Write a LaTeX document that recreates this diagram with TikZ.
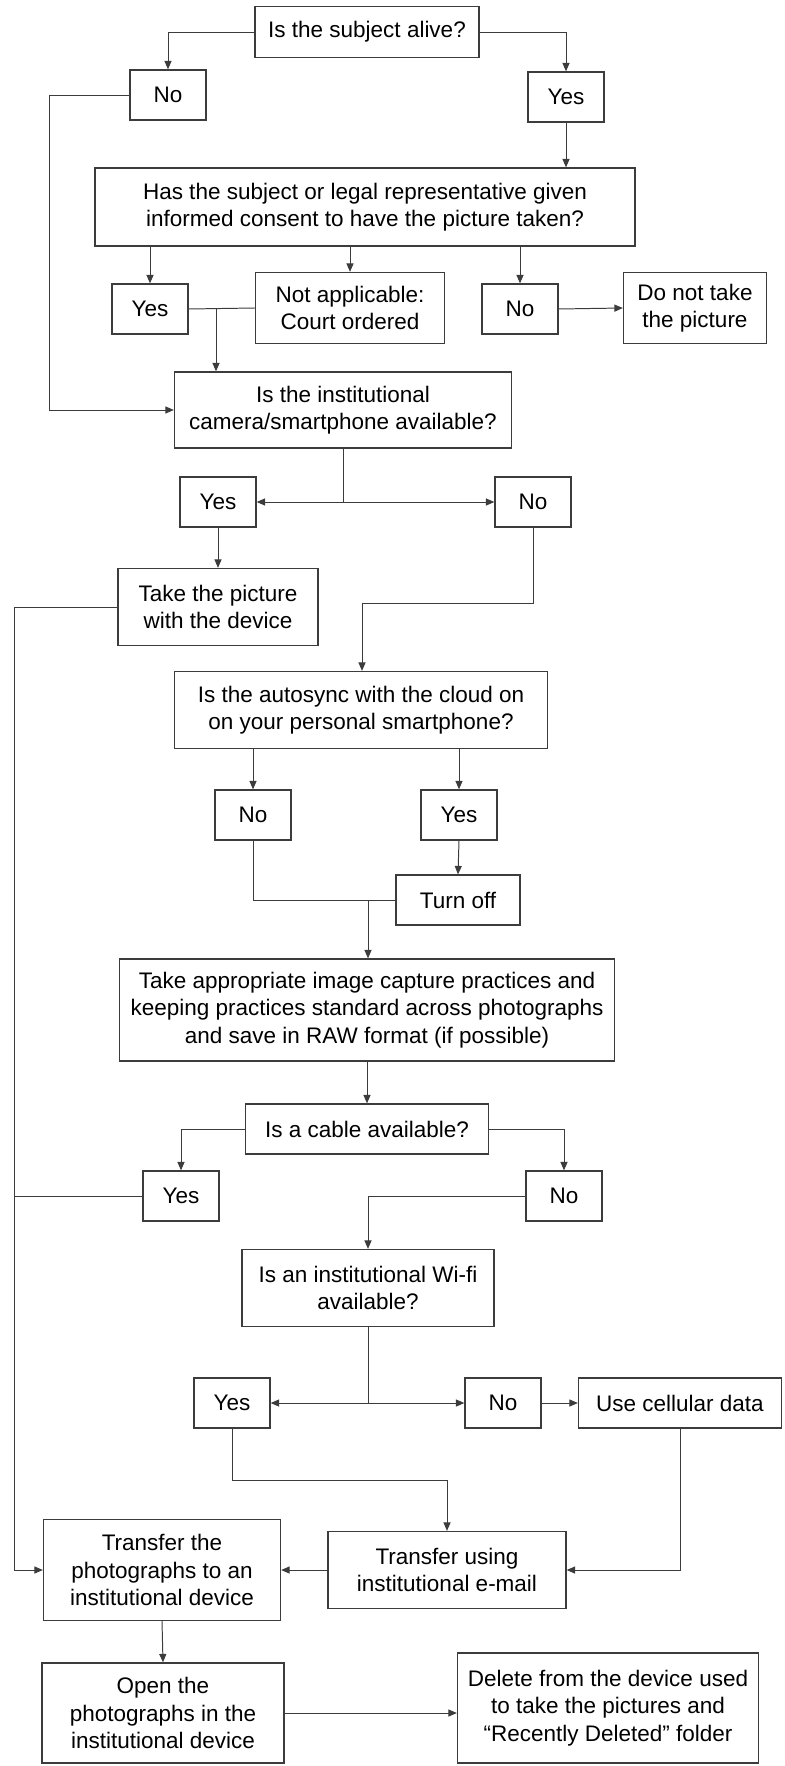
\documentclass[tikz,border=0pt]{standalone}
\usepackage{fontspec}
\setmainfont{Liberation Sans}
\usepackage{tikz}
\usetikzlibrary{arrows.meta,positioning,calc}
\definecolor{fcline}{RGB}{60,60,60}
\tikzset{
  qbox/.style={
    rectangle, draw=fcline, fill=white, line width=0.9pt,
    align=center, inner sep=2pt,
    font={\fontsize{16}{19.5}\selectfont}
  },
  ansbox/.style={
    qbox, minimum width=1.9cm, minimum height=1.25cm
  },
  flowarr/.style={-{Triangle[length=6pt,width=5pt]}, fcline, line width=0.7pt},
  flowline/.style={fcline, line width=0.7pt}
}
\begin{document}
\begin{tikzpicture}[x=0.025cm, y=-0.025cm]
  \useasboundingbox (0,0) rectangle (784,1766);
  % questions and answers
  \node[qbox, minimum width=5.6cm, minimum height=1.275cm] (alive) at (367,32) {Is the subject alive?};
  \node[ansbox] (no1) at (168,95) {No};
  \node[ansbox] (yes1) at (566,97) {Yes};
  \node[qbox, minimum width=13.5cm, minimum height=1.95cm] (consent) at (365,207) {Has the subject or legal representative given\\informed consent to have the picture taken?};
  \node[ansbox] (yes2) at (150,309) {Yes};
  \node[qbox, minimum width=4.725cm, minimum height=1.775cm] (na) at (350,308) {Not applicable:\\Court ordered};
  \node[ansbox] (no2) at (520,309) {No};
  \node[qbox, minimum width=3.575cm, minimum height=1.775cm] (donot) at (695,308) {Do not take\\the picture};
  \node[qbox, minimum width=8.425cm, minimum height=1.9cm] (inst) at (343,410) {Is the institutional\\camera/smartphone available?};
  \node[ansbox] (yes3) at (218,502) {Yes};
  \node[ansbox] (no3) at (533,502) {No};
  \node[qbox, minimum width=5.0cm, minimum height=1.925cm] (take) at (218,607) {Take the picture\\with the device};
  \node[qbox, minimum width=9.325cm, minimum height=1.925cm] (sync) at (361,710) {Is the autosync with the cloud on\\on your personal smartphone?};
  \node[ansbox] (no4) at (253,815) {No};
  \node[ansbox] (yes4) at (459,815) {Yes};
  \node[qbox, minimum width=3.1cm, minimum height=1.25cm] (off) at (458,900) {Turn off};
  \node[qbox, minimum width=12.375cm, minimum height=2.55cm] (capture) at (367,1010) {Take appropriate image capture practices and\\keeping practices standard across photographs\\and save in RAW format (if possible)};
  \node[qbox, minimum width=6.075cm, minimum height=1.25cm] (cable) at (367,1129) {Is a cable available?};
  \node[ansbox] (yes5) at (181,1196) {Yes};
  \node[ansbox] (no5) at (564,1196) {No};
  \node[qbox, minimum width=6.3cm, minimum height=1.925cm] (wifi) at (368,1288) {Is an institutional Wi-fi\\available?};
  \node[ansbox] (yes6) at (232,1403) {Yes};
  \node[ansbox] (no6) at (503,1403) {No};
  \node[qbox, minimum width=5.075cm, minimum height=1.25cm] (cell) at (680,1403) {Use cellular data};
  \node[qbox, minimum width=5.95cm, minimum height=1.925cm] (email) at (447,1570) {Transfer using\\institutional e-mail};
  \node[qbox, minimum width=5.925cm, minimum height=2.525cm] (transfer) at (162,1570) {Transfer the\\photographs to an\\institutional device};
  \node[qbox, minimum width=6.05cm, minimum height=2.5cm] (open) at (163,1713) {Open the\\photographs in the\\institutional device};
  \node[qbox, minimum width=7.525cm, minimum height=2.75cm] (delete) at (608,1708) {Delete from the device used\\to take the pictures and\\“Recently Deleted” folder};
  % bends and junctions
  \coordinate (l1) at (49,95);
  \coordinate (l2) at (14,607);
  \coordinate (j1) at (216,309);
  \coordinate (j2) at (343,502);
  \coordinate (k1) at (362,603);
  \coordinate (j3) at (368,900);
  \coordinate (j4) at (368,1403);
  \coordinate (k2) at (447,1480);
  % connectors
  \draw[flowarr] (alive.west) -| (no1.north);
  \draw[flowarr] (alive.east) -| (yes1.north);
  \draw[flowarr] (yes1.south) -- (yes1.south |- consent.north);
  \draw[flowarr] (yes2.north |- consent.south) -- (yes2.north);
  \draw[flowarr] (na.north |- consent.south) -- (na.north);
  \draw[flowarr] (no2.north |- consent.south) -- (no2.north);
  \draw[flowarr] (no2.east) -- (donot.west);
  \draw[flowline] (yes2.east) -- (na.west);
  \draw[flowarr] (j1) -- (j1 |- inst.north);
  \draw[flowarr] (no1.west) -- (l1) |- (inst.west);
  \draw[flowline] (inst.south) -- (j2);
  \draw[flowarr] (j2) -- (yes3.east);
  \draw[flowarr] (j2) -- (no3.west);
  \draw[flowarr] (yes3.south) -- (take.north);
  \draw[flowarr] (no3.south) |- (k1) -- (k1 |- sync.north);
  \draw[flowarr] (take.west) -- (l2) |- (transfer.west);
  \draw[flowarr] (no4.north |- sync.south) -- (no4.north);
  \draw[flowarr] (yes4.north |- sync.south) -- (yes4.north);
  \draw[flowarr] (yes4.south) -- (off.north);
  \draw[flowline] (no4.south) |- (off.west);
  \draw[flowarr] (j3) -- (j3 |- capture.north);
  \draw[flowarr] (capture.south) -- (cable.north);
  \draw[flowarr] (cable.west) -| (yes5.north);
  \draw[flowarr] (cable.east) -| (no5.north);
  \draw[flowline] (yes5.west) -- (yes5.west -| l2);
  \draw[flowarr] (no5.west) -| (wifi.north);
  \draw[flowline] (wifi.south) -- (j4);
  \draw[flowarr] (j4) -- (yes6.east);
  \draw[flowarr] (j4) -- (no6.west);
  \draw[flowarr] (no6.east) -- (cell.west);
  \draw[flowarr] (yes6.south) |- (k2) -- (email.north);
  \draw[flowarr] (cell.south) |- (email.east);
  \draw[flowarr] (email.west) -- (transfer.east);
  \draw[flowarr] (transfer.south) -- (open.north);
  \draw[flowarr] (open.east) -- (open.east -| delete.west);
\end{tikzpicture}
\end{document}
